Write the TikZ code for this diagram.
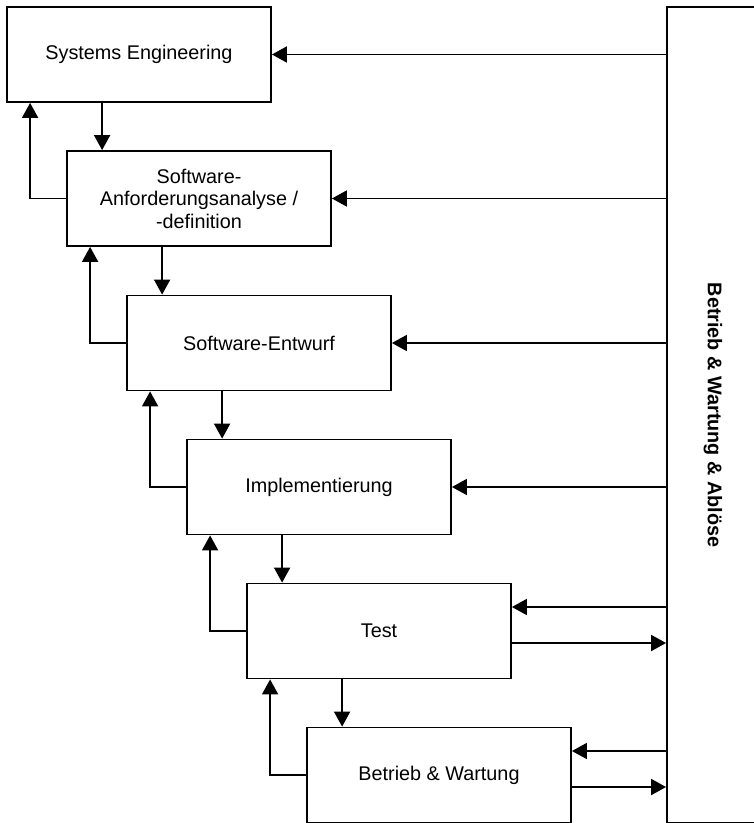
\documentclass[tikz,border=0pt]{standalone}
\usepackage{fontspec}
\setmainfont{Liberation Sans}
\usepackage{graphicx}
\usetikzlibrary{arrows.meta,calc}
\begin{document}
\begin{tikzpicture}[x=1pt,y=-1pt,
  phase/.style={draw, line width=1.8pt, minimum width=264pt, minimum height=95pt, align=center, inner sep=0pt,
    font=\fontsize{19.8}{22.5}\selectfont},
  arr/.style={line width=1.8pt, -{Triangle[length=15pt,width=16pt]}},
  conn/.style={line width=1.8pt}]
\useasboundingbox (0,0) rectangle (754,823);
\fill[white] (0,0) rectangle (754,823);
\node[phase] (b1) at (139,54.5) {Systems Engineering};
\node[phase] (b2) at (199,198.5) {Software-\\Anforderungsanalyse /\\-definition};
\node[phase] (b3) at (259,343) {Software-Entwurf};
\node[phase] (b4) at (319,487) {Implementierung};
\node[phase] (b5) at (379,631) {Test};
\node[phase] (b6) at (439,775) {Betrieb \& Wartung};
\node[draw, line width=1.8pt, minimum width=92pt, minimum height=816pt, inner sep=0pt,
  font=\fontsize{19.8}{22.5}\selectfont\bfseries] (ops) at (713,415) {\rotatebox{-90}{Betrieb \& Wartung \& Ablöse}};
% down arrows and feedback arrows
\foreach \a/\b in {b1/b2,b2/b3,b3/b4,b4/b5,b5/b6}{
  \coordinate (d\a) at ([xshift=96pt]\a.south west);
  \draw[arr] (d\a) -- (d\a |- \b.north);
  \coordinate (f\a) at ([xshift=24pt]\a.south west);
  \draw[arr] (\b.west) -| (f\a);
}
% inputs from operations
\foreach \b in {b1,b2,b3,b4}{
  \draw[arr] (ops.west |- \b.east) -- (\b.east);
}
\foreach \b in {b5,b6}{
  \coordinate (i\b) at ([yshift=24pt]\b.east);
  \coordinate (o\b) at ([yshift=-12pt]\b.east);
  \draw[arr] (ops.west |- i\b) -- (i\b);
  \draw[arr] (o\b) -- (ops.west |- o\b);
}
\end{tikzpicture}
\end{document}
